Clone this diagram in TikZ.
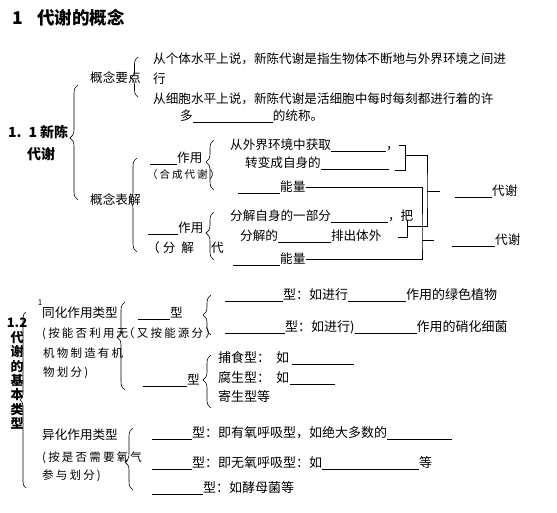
\documentclass[tikz,border=0pt]{standalone}
\usepackage{fontspec}
\setmainfont{Noto Sans CJK SC}
\newfontfamily\spaced[LetterSpace=19]{Noto Sans CJK SC}
\usetikzlibrary{
	positioning				% Allows 5px above/below of x style positioning
	, decorations.pathreplacing	% Allows the curly braces
	, calc
}
\newcommand{\blank}[1]{\rule[-2.5pt]{#1}{0.7pt}}

\begin{document}
\begin{tikzpicture}[x=1pt, y=-1pt
		, txt/.style={anchor=west, inner sep=0pt, text height=10.5pt, text depth=1.5pt, font=\fontsize{12.6}{14}\selectfont}
		, txtb/.style={txt, font=\fontsize{13}{15}\selectfont}
		, note/.style={txt, font=\spaced\fontsize{11.5}{13}\selectfont}
		, notesmall/.style={txt, font=\spaced\fontsize{10.5}{12}\selectfont}
		, heading/.style={txt, font=\bfseries\fontsize{14}{16}\selectfont}
		, title/.style={txt, font=\bfseries\fontsize{17.5}{20}\selectfont}
		, vchar/.style={inner sep=0pt, font=\bfseries\fontsize{13}{14}\selectfont}
		, curly/.style 2 args={decorate, decoration={brace, amplitude=#1, aspect=#2}, line width=0.6pt}
		, bracket/.style={line width=0.7pt}]

		\useasboundingbox (0,0) rectangle (557,512);

		%%% Title
		\node[title] (titlenum) at (12,20) {1};
		\node[title] (titletext) at (37,20) {代谢的概念};

		%%% 1.1 Metabolism
		\node[heading] (sec11a) at (8,133) {1.\hspace{7pt}1\hspace{3pt}新陈};
		\node[heading] (sec11b) at (27,155) {代谢};
		\draw[curly={8pt}{0.54}] (78,200) -- (78,85);

		%% Key points
		\node[txt] (yaodian) at (90,78) {概念要点};
		\draw[curly={7pt}{0.475}] (138,97) -- (138,57);
		\node[txt] (ydline1) at (153,59) {从个体水平上说，新陈代谢是指生物体不断地与外界环境之间进};
		\node[txt] (ydline2) at (153,79) {行};
		\node[txt] (ydline3) at (153,99) {从细胞水平上说，新陈代谢是活细胞中每时每刻都进行着的许};
		\node[txt] (ydline4) at (180,116) {多\blank{80pt}的统称。};

		%% Explanation
		\node[txt] (biaojie) at (90,200) {概念表解};
		\draw[curly={8pt}{0.55}] (137,252) -- (137,158);

		%% Synthesis
		\node[txt] (hecheng) at (150,158) {\blank{27pt}作用};
		\node[notesmall] (hcnote) at (147,174) {（合成代谢）};
		\draw[curly={8pt}{0.56}] (214,190) -- (214,140);
		\node[txt] (hcline1) at (230,145) {从外界环境中获取\blank{55pt}，};
		\node[txt] (hcline2) at (245,163) {转变成自身的\blank{68pt}};
		\node[txt] (nengA) at (238,187) {\blank{42pt}能量};

		%% Breakdown
		\node[txt] (fenjie) at (148,228) {\blank{30pt}作用};
		\node[txt] (fjnote) at (147,248) {（\hspace{3pt}分\hspace{6pt}解};
		\node[txt] (fjnote2) at (211,248) {代};
		\draw[curly={8pt}{0.56}] (214,260) -- (214,212);
		\node[txt] (fjline1) at (230,216) {分解自身的一部分\blank{57pt}，把};
		\node[txt] (fjline2) at (240,236) {分解的\blank{53pt}排出体外};
		\node[txt] (nengB) at (233,259) {\blank{47pt}能量};

		%% Results
		\node[txt] (daixieA) at (455,191) {\blank{37pt}代谢};
		\node[txt] (daixieB) at (452,240) {\blank{43pt}代谢};

		\coordinate (hcB) at (405,170);
		\coordinate (hcC) at (395,170);
		\coordinate (hcm) at (405,155);
		\coordinate (fjA) at (407,220);
		\coordinate (fjB) at (398,237);
		\coordinate (fjm) at (407,226);
		\coordinate (hcjoin) at (427,191);
		\coordinate (nengjoin) at (422,240);

		\draw[bracket] (hcline1.east) -| (hcB) -- (hcC);
		\draw[bracket] (fjA) |- (fjB);
		\draw[bracket] (hcm) -| (hcjoin) |- (fjm);
		\draw[bracket] (hcjoin) -- ++(13,0);
		\draw[bracket] (nengA.east) -| (nengjoin) |- (nengB.east);
		\draw[bracket] (nengjoin) -- ++(12,0);

		%%% 1.2 Basic types of metabolism
		\node[vchar] (sec12) at (17,323) {1.2};
		\foreach [count=\i] \ch in {代, 谢, 的, 基, 本, 类, 型} {
			\node[vchar] (sec12c\i) at (17,{323 + 14.4*\i}) {\ch};
		};
		\draw[curly={6pt}{0.5}] (26,488) -- (26,312);
		\node[inner sep=0pt, font=\fontsize{8}{9}\selectfont] (onemark) at (40,303) {1};

		%% Assimilation
		\node[txt] (tonghua) at (42,313) {同化作用类型};
		\node[note] (thnote1) at (42,333) {(按能否利用无};
		\node[note] (thnote2) at (123,333) {（又按能源分）};
		\node[note] (thnote3) at (43,353) {机物制造有机};
		\node[note] (thnote4) at (43,372) {物划分)};
		\draw[curly={8pt}{0.6}] (125,390) -- (125,302);

		\node[txt] (xingA) at (138,313) {\blank{32pt}型};
		\draw[curly={8pt}{0.5}] (211,335) -- (211,295);
		\node[txtb] (zizhi1) at (225,295) {\blank{58pt}型：如进行\blank{58pt}作用的绿色植物};
		\node[txtb] (zizhi2) at (225,327) {\blank{60pt}型：如进行)\blank{62pt}作用的硝化细菌};

		\node[txt] (xingB) at (143,380) {\blank{44pt}型};
		\draw[curly={8pt}{0.53}] (211,408) -- (211,355);
		\node[txtb] (buShi) at (218,358) {捕食型：\hspace{6pt}如\hspace{3pt}\blank{62pt}};
		\node[txtb] (fuSheng) at (218,378) {腐生型：\hspace{6pt}如\hspace{1pt}\blank{45pt}};
		\node[txtb] (jiSheng) at (218,397) {寄生型等};

		%% Dissimilation
		\node[txt] (yihua) at (42,435) {异化作用类型};
		\node[note] (yhnote1) at (42,457) {(按是否需要氧气};
		\node[note] (yhnote2) at (42,475) {参与划分)};
		\draw[curly={8pt}{0.45}] (133,490) -- (133,428);
		\node[txtb] (youyang) at (152,433) {\blank{40pt}型：即有氧呼吸型，如绝大多数的\blank{65pt}};
		\node[txtb] (wuyang) at (152,463) {\blank{40pt}型：即无氧呼吸型：如\blank{97pt}等};
		\node[txtb] (jianxing) at (152,488) {\blank{51pt}型：如酵母菌等};
	\end{tikzpicture}
\end{document}
